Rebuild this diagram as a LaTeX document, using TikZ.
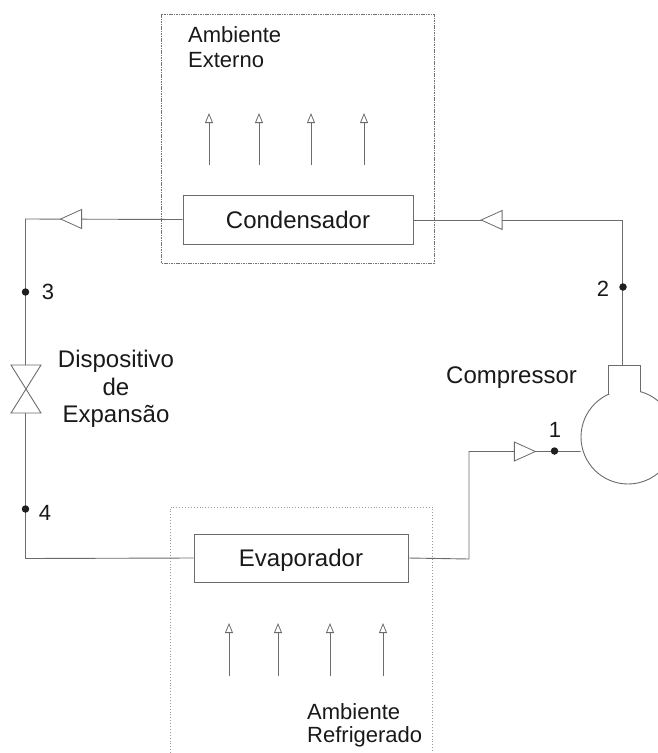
\documentclass[tikz,border=0pt]{standalone}
\usepackage{fontspec}
\setmainfont{Liberation Sans}
\usetikzlibrary{arrows.meta,shapes.geometric}
\definecolor{ln}{gray}{0.42}
\definecolor{tx}{gray}{0.1}
\tikzset{
  pipe/.style={draw=ln,line width=0.9pt},
  unit/.style={draw=ln,line width=0.9pt,fill=white,inner sep=0pt,text=tx,text depth=0pt,font=\fontsize{24}{24}\selectfont},
  flowtri/.style={isosceles triangle,isosceles triangle stretches,draw=ln,line width=0.8pt,fill=white,inner sep=0pt,minimum width=19pt,minimum height=21pt},
  statept/.style={circle,fill=black!88,inner sep=0pt,minimum size=7.5pt},
  lab/.style={text=tx,font=\fontsize{22}{24}\selectfont,inner sep=0pt},
  lbl/.style={text=tx,font=\fontsize{24}{28}\selectfont,inner sep=0pt},
  air/.style={draw=ln,line width=0.8pt,-{Triangle[open,length=10pt,width=8pt]}},
}
\begin{document}
\begin{tikzpicture}[x=1pt,y=-1pt]
\useasboundingbox (0,0) rectangle (657,753);
% ambient boxes
\draw[black!55,line width=0.9pt,dash pattern=on 1.6pt off 0.8pt] (161,14) rectangle (434,263);
\draw[black!40,line width=0.9pt,dotted] (170,753) -- (170,507) -- (432,507) -- (432,753);
% corners
\coordinate (c2) at (622.5,220);
\coordinate (c3) at (25.5,219);
\coordinate (c4) at (25.5,558.5);
\coordinate (e1) at (469,559);
\coordinate (e2) at (469,451.5);
\coordinate (neckin) at (622.5,365);
\coordinate (vt) at (25.5,365);
\coordinate (vb) at (25.5,413);
% units
\node[unit,minimum width=230pt,minimum height=49pt] (cond) at (298,219.5) {Condensador};
\node[unit,minimum width=214pt,minimum height=48pt] (evap) at (301,558) {Evaporador};
% compressor
\node[circle,draw=ln,line width=0.9pt,fill=white,inner sep=0pt,minimum size=94pt] (shell) at (628,437) {};
\fill[white] (608,365) rectangle (640,394.2);
\draw[pipe] (608,394.5) -- (608,365) -- (640,365) -- (640,391.8);
% pipes
\draw[pipe] (cond.east) -- (cond.east |- c2) -- (c2) -- (neckin);
\draw[pipe] (cond.west) -- (c3) -- (vt);
\draw[pipe] (vb) -- (c4) -- (evap.west);
\draw[pipe] (evap.east) -- (e1) -- (e2) -- (shell.west |- e2);
% triangles
\node[flowtri,shape border rotate=180] (t1) at (496,220) {};
\node[flowtri,shape border rotate=180] (t2) at (75.5,219) {};
\node[flowtri,shape border rotate=0] (t3) at (520.5,451.5) {};
% valve
\draw[pipe,line join=miter] (11,365) -- (41,365) -- (11,413) -- (41,413) -- cycle;
% state points
\node[statept] (p1) at (554.5,451) {};
\node[statept] (p2) at (623,287) {};
\node[statept] (p3) at (25.5,292) {};
\node[statept] (p4) at (25.5,509) {};
\node[lab,anchor=base] (n1) at (555,437) {1};
\node[lab,anchor=base] (n2) at (603,296) {2};
\node[lab,anchor=base] (n3) at (48,299) {3};
\node[lab,anchor=base] (n4) at (45,520) {4};
% labels
\node[lab,anchor=base west] (ae1) at (188,42) {Ambiente};
\node[lab,anchor=base west] (ae2) at (188,67) {Externo};
\node[lab,anchor=base west] (ar1) at (307,719) {Ambiente};
\node[lab,anchor=base west] (ar2) at (307,742) {Refrigerado};
\node[lbl,anchor=base west] (comp) at (446,383) {Compressor};
\node[lbl,anchor=base] (d1) at (116,367) {Dispositivo};
\node[lbl,anchor=base] (d2) at (116,395) {de};
\node[lbl,anchor=base] (d3) at (116,422) {Expansão};
% air arrows
\foreach \x/\n in {209/a,259/b,311/c,364/d}{
  \coordinate (u\n) at (\x,165); \coordinate (v\n) at (\x,113);
  \draw[air] (u\n) -- (v\n);
}
\foreach \x/\n in {229/a,278/b,330/c,383/d}{
  \coordinate (r\n) at (\x,676); \coordinate (s\n) at (\x,623);
  \draw[air] (r\n) -- (s\n);
}
\end{tikzpicture}
\end{document}
